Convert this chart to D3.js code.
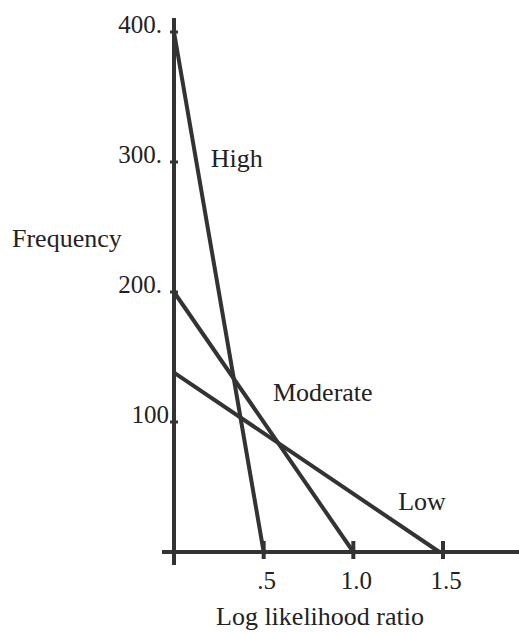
<!DOCTYPE html>
<html>
<head>
<meta charset="utf-8">
<script src="https://cdn.jsdelivr.net/npm/d3@7"></script>
<style>
  body { margin: 0; background: #fff; }
  text { font-family: "Liberation Serif", serif; fill: #222; }
</style>
</head>
<body>
<div id="chart"></div>
<script>
const series = ['High', 'Moderate', 'Low'];
const startFreq = [400, 200, 138];   // frequency at log likelihood ratio 0
const endRatio = [0.5, 1.0, 1.48];  // where each line reaches zero
const yTicks = [100, 200, 300, 400];
const yTickLabels = ['100', '200.', '300.', '400.'];
const xTicks = [0.5, 1.0, 1.5];
const xTickLabels = ['.5', '1.0', '1.5'];

const width = 519;
const height = 633;
const ink = '#333';

const svg = d3.select('#chart')
  .append('svg')
    .attr('width', width)
    .attr('height', height);

const x = d3.scaleLinear()
  .domain([0, 1.5])
  .range([174, 443]);
const y = d3.scaleLinear()
  .domain([0, 400])
  .range([552, 32]);

// axes drawn by hand, like the original plot
svg.append('line')
    .attr('x1', x(0)).attr('x2', x(0))
    .attr('y1', 18).attr('y2', 565)
    .attr('stroke', ink)
    .attr('stroke-width', 4);
svg.append('line')
    .attr('x1', 162).attr('x2', width)
    .attr('y1', y(0)).attr('y2', y(0))
    .attr('stroke', ink)
    .attr('stroke-width', 4);

// y ticks: little dots on the axis
svg.selectAll('.ytick')
  .data(yTicks)
  .join('line')
    .attr('class', 'ytick')
    .attr('x1', x(0) - 4).attr('x2', x(0) + 4)
    .attr('y1', d => y(d)).attr('y2', d => y(d))
    .attr('stroke', ink)
    .attr('stroke-width', 3);

svg.selectAll('.ylabel')
  .data(yTicks)
  .join('text')
    .attr('class', 'ylabel')
    .attr('text-anchor', 'end')
    .attr('x', (d, i) => i === 0 ? x(0) - 5 : x(0) - 12)
    .attr('y', d => y(d) + 1)
    .attr('font-size', 25)
    .text((d, i) => yTickLabels[i]);

svg.selectAll('.xtick')
  .data(xTicks)
  .join('line')
    .attr('class', 'xtick')
    .attr('x1', d => x(d)).attr('x2', d => x(d))
    .attr('y1', y(0) - 11).attr('y2', y(0) + 7)
    .attr('stroke', ink)
    .attr('stroke-width', 4);

svg.selectAll('.xlabel')
  .data(xTicks)
  .join('text')
    .attr('class', 'xlabel')
    .attr('text-anchor', 'middle')
    .attr('x', d => x(d) + 3)
    .attr('y', 589)
    .attr('font-size', 25)
    .text((d, i) => xTickLabels[i]);

// the three lines
svg.selectAll('.series')
  .data(series)
  .join('line')
    .attr('class', 'series')
    .attr('x1', x(0))
    .attr('y1', (d, i) => y(startFreq[i]))
    .attr('x2', (d, i) => x(endRatio[i]))
    .attr('y2', y(0))
    .attr('stroke', ink)
    .attr('stroke-width', 4);

const labelPos = [[0.205, 296], [0.552, 116], [1.25, 32]];
svg.selectAll('.serieslabel')
  .data(series)
  .join('text')
    .attr('class', 'serieslabel')
    .attr('x', (d, i) => x(labelPos[i][0]))
    .attr('y', (d, i) => y(labelPos[i][1]))
    .attr('font-size', 26)
    .text(d => d);

svg.append('text')
    .attr('x', 12)
    .attr('y', 247)
    .attr('font-size', 26)
    .text('Frequency');

svg.append('text')
    .attr('text-anchor', 'middle')
    .attr('x', 320)
    .attr('y', 625)
    .attr('font-size', 26)
    .text('Log likelihood ratio');
</script>
</body>
</html>
